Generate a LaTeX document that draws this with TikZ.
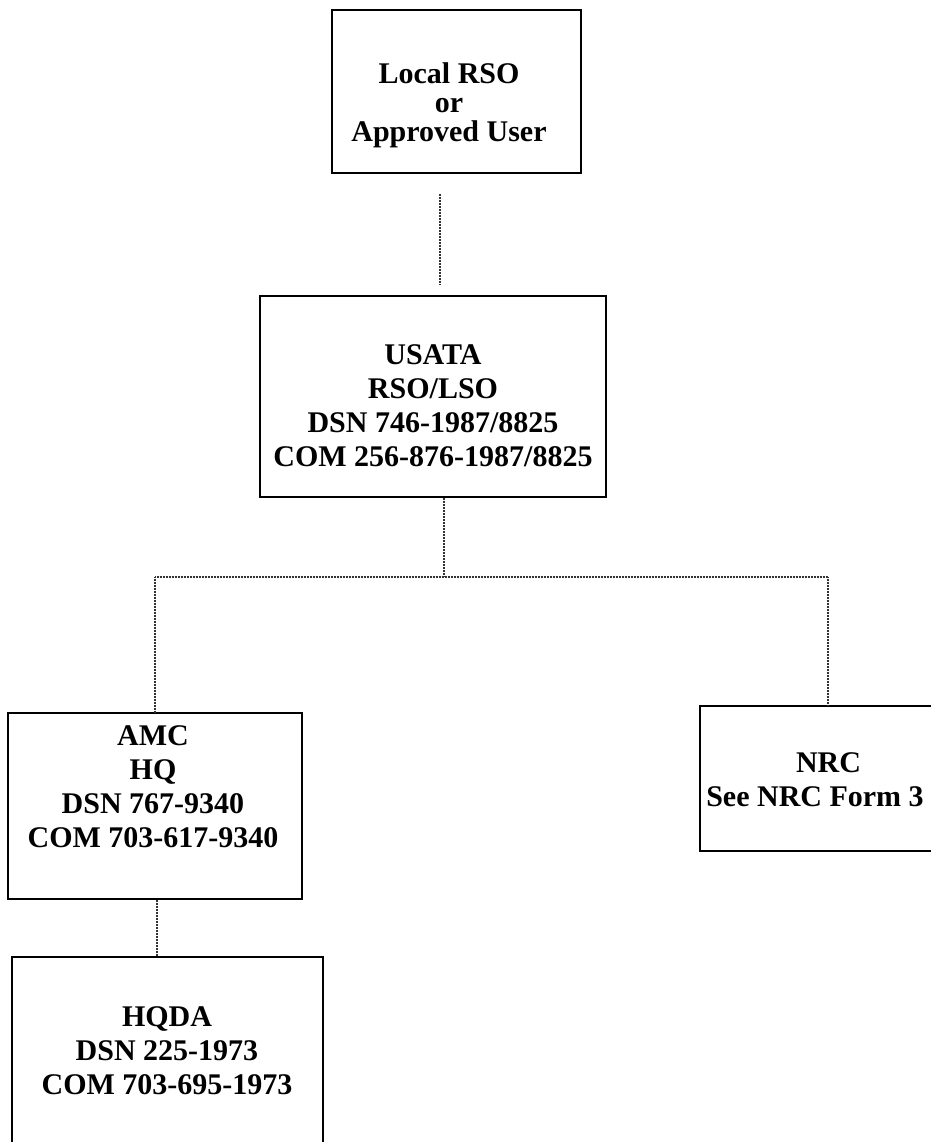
\documentclass[tikz,border=0pt]{standalone}
\usepackage{fontspec}
\setmainfont{Liberation Serif}
\usetikzlibrary{calc}
\begin{document}
\begin{tikzpicture}[x=1pt,y=-1pt,
  box/.style={draw=black,line width=1.9pt,inner sep=0pt},
  lbl/.style={align=center,inner sep=0pt,font=\bfseries\fontsize{30}{34}\selectfont},
  conn/.style={line width=1.3pt,draw=black!80,dash pattern=on 1pt off 0.5pt}]
\useasboundingbox[fill=white] (0,0) rectangle (930,1142);
% boxes
\node[box,minimum width=249pt,minimum height=163pt] (b1) at (456.5,91.5) {};
\node[box,minimum width=346pt,minimum height=201pt] (b2) at (433,396.5) {};
\node[box,minimum width=294pt,minimum height=186pt] (amc) at (155,806) {};
\node[box,minimum width=256pt,minimum height=145pt] (nrc) at (828,778.5) {};
\node[box,minimum width=311pt,minimum height=200pt] (hqda) at (167.5,1057) {};
% texts
\node[lbl,font=\bfseries\fontsize{30}{29}\selectfont] (t1) at (449,105) {Local RSO\\or\\Approved User};
\node[lbl] (t2) at (433,406) {USATA\\RSO/LSO\\DSN 746-1987/8825\\COM 256-876-1987/8825};
\node[lbl] (t3) at (153,786.5) {AMC\\HQ\\DSN 767-9340\\COM 703-617-9340};
\node[lbl] (t4) at (815,779.5) {\hspace*{27pt}NRC\\See NRC Form 3};
\node[lbl] (t5) at (167,1051) {HQDA\\DSN 225-1973\\COM 703-695-1973};
% connectors
\coordinate (j) at (444,577);
\draw[conn] ([shift={(-16.5,20)}]b1.south) -- ([shift={(7,-11)}]b2.north);
\draw[conn] ([xshift=11pt]b2.south) -- (j);
\draw[conn] (amc.north |- j) -- (nrc.north |- j);
\draw[conn] (amc.north |- j) -- (amc.north);
\draw[conn] (nrc.north |- j) -- (nrc.north);
\draw[conn] ([xshift=2pt]amc.south) -- ([xshift=2pt]amc.south |- hqda.north);
\end{tikzpicture}
\end{document}
